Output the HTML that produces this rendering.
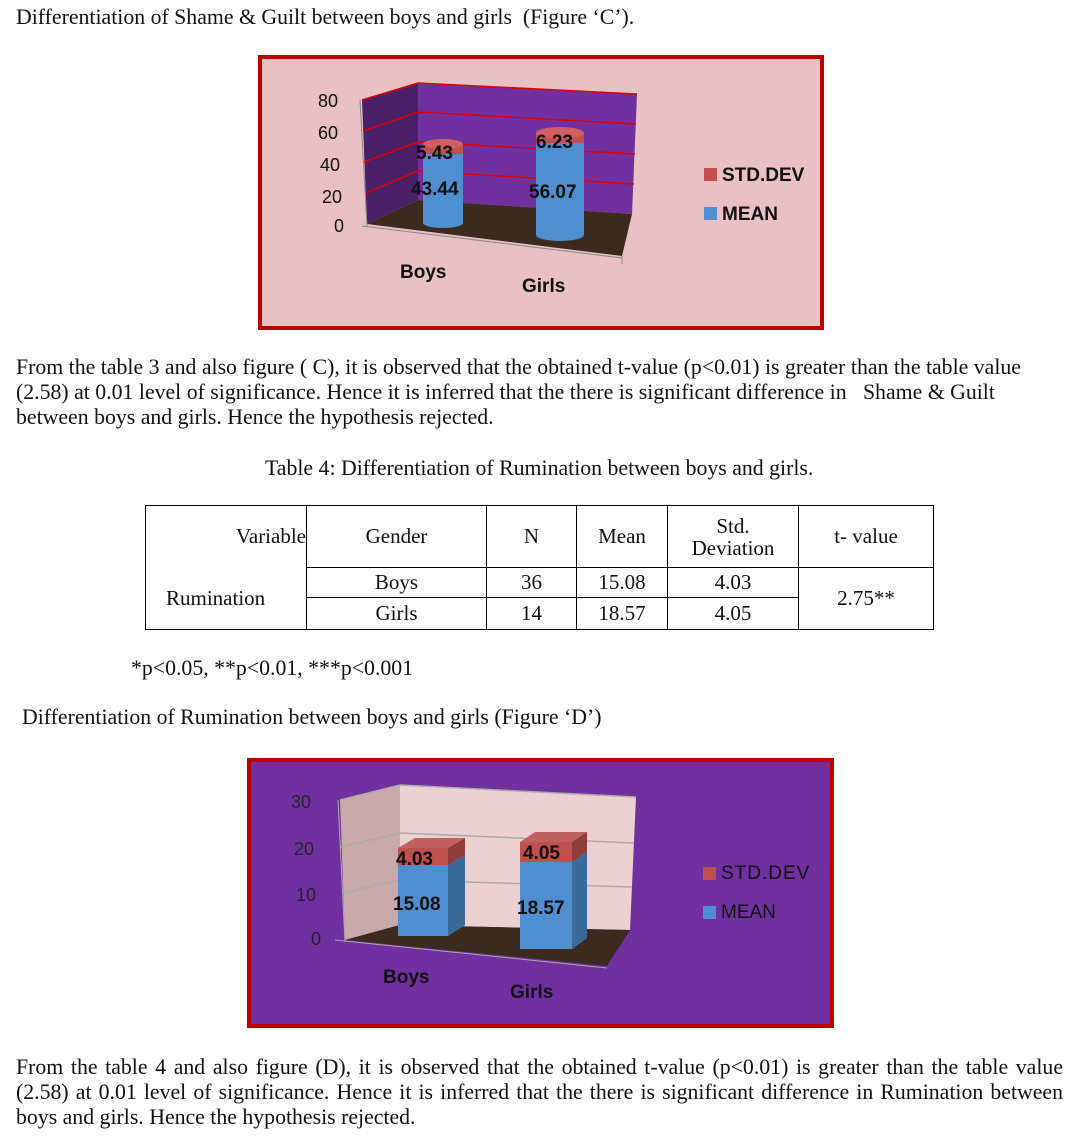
<!DOCTYPE html>
<html><head><meta charset="utf-8"><style>
body{margin:0;width:1075px;height:1142px;background:#fff;position:relative;font-family:"Liberation Serif",serif;font-size:21.8px;color:#111;overflow:hidden}
.t{position:absolute;white-space:nowrap}
.p{position:absolute;left:16px;width:1050px;line-height:25px}
table{position:absolute;left:145px;top:505px;border-collapse:collapse;font-size:21px}
td{border:1px solid #000;text-align:center;padding:0}
svg text{font-family:"Liberation Sans",sans-serif;font-weight:bold}
</style></head><body>
<div class="t" style="left:16px;top:5px">Differentiation of Shame &amp; Guilt between boys and girls&nbsp; (Figure ‘C’).</div>

<svg style="position:absolute;left:258px;top:55px" width="566" height="275" viewBox="258 55 566 275">
<rect x="260" y="57" width="562" height="271" fill="#e9c1c4" stroke="#c00000" stroke-width="4"/>
<polygon points="362,100 418,83 418,200 367,224" fill="#4a2068"/>
<polygon points="418,83 637,94 632,214 418,200" fill="#7030a0"/>
<g stroke="#e00000" stroke-width="1.5" fill="none">
<polyline points="362,100 418,83 637,94"/><polyline points="363,131 418,112 636,124"/><polyline points="364,162 418,142 635,154"/><polyline points="366,193 418,171 634,184"/></g>
<polygon points="367,224 418,200 632,214 622,256" fill="#3b2a1e"/>
<line x1="360" y1="100" x2="367" y2="226" stroke="#888"/><line x1="362" y1="226" x2="622" y2="258" stroke="#888"/>
<line x1="622" y1="256" x2="622" y2="264" stroke="#888"/>
<g font-size="18" fill="#111">
<text x="318" y="107" style="font-weight:normal">80</text><text x="318" y="139" style="font-weight:normal">60</text><text x="320" y="171" style="font-weight:normal">40</text><text x="322" y="203" style="font-weight:normal">20</text><text x="334" y="232" style="font-weight:normal">0</text></g>
<rect x="423" y="148" width="40" height="75" fill="#4f8fd0"/><ellipse cx="443" cy="223" rx="20" ry="5" fill="#4f8fd0"/>
<rect x="423" y="144" width="40" height="10" fill="#c0504d"/><ellipse cx="443" cy="144" rx="20" ry="5" fill="#d06060"/>
<rect x="536" y="138" width="48" height="97" fill="#4f8fd0"/><ellipse cx="560" cy="235" rx="24" ry="6" fill="#4f8fd0"/>
<rect x="536" y="133" width="48" height="10" fill="#c0504d"/><ellipse cx="560" cy="133" rx="24" ry="6" fill="#d06060"/>
<g font-size="19" fill="#111"><text x="416" y="159">5.43</text><text x="411" y="195">43.44</text><text x="536" y="148">6.23</text><text x="529" y="198">56.07</text>
<text x="400" y="278">Boys</text><text x="522" y="292">Girls</text>
<text x="722" y="181">STD.DEV</text><text x="722" y="220">MEAN</text></g>
<rect x="704" y="168" width="13" height="13" fill="#c0504d"/><rect x="704" y="207" width="13" height="13" fill="#4f8fd0"/>
</svg>

<div class="p" style="top:355px">From the table 3 and also figure ( C), it is observed that the obtained t-value (p&lt;0.01) is greater than the table value<br>(2.58) at 0.01 level of significance. Hence it is inferred that the there is significant difference in &nbsp; Shame &amp; Guilt<br>between boys and girls. Hence the hypothesis rejected.</div>
<div class="t" style="left:265px;top:456px">Table 4: Differentiation of Rumination between boys and girls.</div>

<table>
<tr style="height:62px"><td style="width:160px;text-align:right;border-bottom:none">Variable</td><td style="width:179px">Gender</td><td style="width:89px">N</td><td style="width:90px">Mean</td><td style="width:130px;line-height:22px">Std.<br>Deviation</td><td style="width:134px">t- value</td></tr>
<tr style="height:30px"><td rowspan="2" style="border-top:none;text-align:left;padding-left:20px">Rumination</td><td>Boys</td><td>36</td><td>15.08</td><td>4.03</td><td rowspan="2">2.75**</td></tr>
<tr style="height:32px"><td>Girls</td><td>14</td><td>18.57</td><td>4.05</td></tr>
</table>

<div class="t" style="left:131px;top:656px">*p&lt;0.05, **p&lt;0.01, ***p&lt;0.001</div>
<div class="t" style="left:22px;top:705px">Differentiation of Rumination between boys and girls (Figure ‘D’)</div>

<svg style="position:absolute;left:247px;top:758px" width="587" height="270" viewBox="247 758 587 270">
<rect x="249" y="760" width="583" height="266" fill="#7030a0" stroke="#c00000" stroke-width="4"/>
<polygon points="340,800 400,785 400,925 345,940" fill="#c8a8a8"/>
<polygon points="400,785 636,797 630,930 400,925" fill="#edd0d2"/>
<g stroke="#aaa" stroke-width="1.5" fill="none"><polyline points="340,800 400,785 636,797"/><polyline points="341,847 400,833 634,843"/><polyline points="342,893 400,880 632,887"/></g>
<polygon points="345,940 400,925 630,930 607,966" fill="#3b2a1e"/>
<line x1="338" y1="800" x2="345" y2="942" stroke="#aaa"/><line x1="335" y1="940" x2="607" y2="968" stroke="#aaa"/>
<g font-size="18" fill="#222"><text x="291" y="808" style="font-weight:normal">30</text><text x="294" y="855" style="font-weight:normal">20</text><text x="296" y="901" style="font-weight:normal">10</text><text x="311" y="945" style="font-weight:normal">0</text></g>
<polygon points="398,865 448,865 465,855 465,925 448,936 398,936" fill="#4f8fd0"/><polygon points="448,865 465,855 465,925 448,936" fill="#3a6a9a"/>
<polygon points="398,848 448,848 465,838 415,838" fill="#c06060"/><rect x="398" y="848" width="50" height="17" fill="#c0504d"/><polygon points="448,848 465,838 465,855 448,865" fill="#903c3a"/>
<polygon points="520,862 572,862 587,852 587,938 572,949 520,949" fill="#4f8fd0"/><polygon points="572,862 587,852 587,938 572,949" fill="#3a6a9a"/>
<polygon points="520,842 572,842 587,832 535,832" fill="#c06060"/><rect x="520" y="842" width="52" height="20" fill="#c0504d"/><polygon points="572,842 587,832 587,852 572,862" fill="#903c3a"/>
<g font-size="19" fill="#111"><text x="396" y="865">4.03</text><text x="523" y="859">4.05</text><text x="393" y="910">15.08</text><text x="517" y="914">18.57</text>
<text x="383" y="983">Boys</text><text x="510" y="998">Girls</text>
<text x="721" y="879" style="font-weight:normal;letter-spacing:1px">STD.DEV</text><text x="721" y="918" style="font-weight:normal">MEAN</text></g>
<rect x="703" y="867" width="13" height="13" fill="#c0504d"/><rect x="703" y="906" width="13" height="13" fill="#4f8fd0"/>
</svg>

<div class="p" style="top:1055px;width:1047px;text-align:justify;text-align-last:left">From the table 4 and also figure (D), it is observed that the obtained t-value (p&lt;0.01) is greater than the table value (2.58) at 0.01 level of significance. Hence it is inferred that the there is significant difference in Rumination between boys and girls. Hence the hypothesis rejected.</div>
</body></html>
